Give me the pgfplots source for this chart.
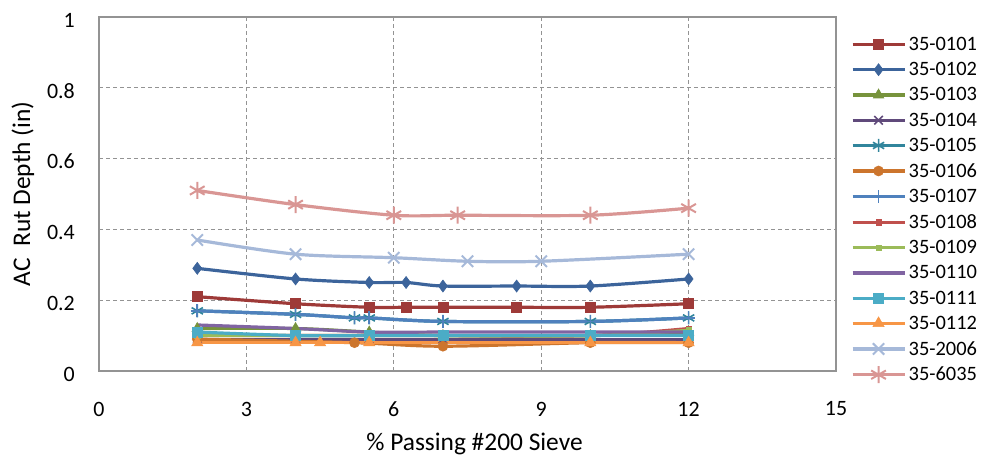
\documentclass[border=0pt]{standalone}
\usepackage{pgfplots}
\pgfplotsset{compat=1.18}
\usepackage{fontspec}
\setmainfont{Carlito}
\definecolor{cA}{RGB}{158,58,56}
\definecolor{cB}{RGB}{60,100,155}
\definecolor{cC}{RGB}{119,147,60}
\definecolor{cD}{RGB}{96,74,123}
\definecolor{cE}{RGB}{49,133,156}
\definecolor{cF}{RGB}{204,117,45}
\definecolor{cG}{RGB}{79,129,189}
\definecolor{cH}{RGB}{192,80,77}
\definecolor{cI}{RGB}{155,187,89}
\definecolor{cJ}{RGB}{128,100,162}
\definecolor{cK}{RGB}{75,172,198}
\definecolor{cL}{RGB}{247,150,70}
\definecolor{cM}{RGB}{166,185,217}
\definecolor{cN}{RGB}{217,150,148}
\begin{document}
\begin{tikzpicture}
\path[use as bounding box] (0,0) rectangle (985bp,462bp);
\begin{axis}[
  at={(99bp,91bp)}, anchor=south west,
  scale only axis, width=737bp, height=354bp,
  xmin=0, xmax=15, ymin=0, ymax=1,
  xtick={0,3,6,9,12,15}, ytick={0,0.2,0.4,0.6,0.8,1},
  tick style={draw=none},
  grid=major,
  major grid style={gray!85, line width=1.3bp, dash pattern=on 4bp off 3bp},
  axis line style={gray!85, line width=1.5bp},
  ticklabel style={font=\fontsize{22}{22}\selectfont},
  /pgf/number format/assume math mode=true,
  xticklabel style={anchor=center, yshift=-38bp},
  yticklabel style={anchor=east, inner xsep=0pt, xshift=-24bp, yshift=-3bp},
  xlabel={\fontsize{25.5}{28}\selectfont\% Passing \#200 Sieve},
  ylabel={\fontsize{25.5}{28}\selectfont AC\ \ Rut Depth (in)},
  xlabel style={at={(axis description cs:0.5,0)}, anchor=center, yshift=-73bp, xshift=7bp},
  ylabel style={at={(axis description cs:0,0.5)}, anchor=center, yshift=76bp},
  legend style={at={(1.02,0.948)}, anchor=north west, draw=none, fill=none,
    font=\fontsize{20.5}{20.5}\selectfont, row sep=7.5bp, inner sep=0pt,
    nodes={inner xsep=2.5bp, inner ysep=1.5bp}},
  legend cell align=left,
  legend image code/.code={\draw[#1, mark repeat=2, mark phase=2] plot coordinates {(0bp,0bp) (26bp,0bp) (52bp,0bp)};},
  every axis plot/.append style={line width=3.2bp, smooth, tension=0.5},
]
\addplot[cA, mark=square*, mark size=5bp, mark options={line width=0.6bp}] coordinates {(2,0.21)(4,0.19)(5.5,0.18)(6.25,0.18)(7,0.18)(8.5,0.18)(10,0.18)(12,0.19)};
\addlegendentry{35-0101}
\addplot[cB, mark=diamond*, mark size=6bp, mark options={line width=0.6bp}] coordinates {(2,0.29)(4,0.26)(5.5,0.25)(6.25,0.25)(7,0.24)(8.5,0.24)(10,0.24)(12,0.26)};
\addlegendentry{35-0102}
\addplot[cC, mark=triangle*, mark size=6bp, mark options={line width=0.6bp}] coordinates {(2,0.12)(4,0.12)(5.5,0.11)(7,0.10)(10,0.10)(12,0.11)};
\addlegendentry{35-0103}
\addplot[cD, mark=x, mark size=6bp, mark options={line width=1.6bp}] coordinates {(2,0.09)(4,0.09)(5.5,0.09)(7,0.09)(10,0.09)(12,0.09)};
\addlegendentry{35-0104}
\addplot[cE, mark=asterisk, mark size=6.5bp, mark options={line width=1.6bp}] coordinates {(2,0.17)(4,0.16)(5.2,0.15)(5.5,0.15)(7,0.14)(10,0.14)(12,0.15)};
\addlegendentry{35-0105}
\addplot[cF, mark=*, mark size=5bp, mark options={line width=0.6bp}] coordinates {(2,0.09)(5.2,0.08)(7,0.07)(10,0.08)(12,0.08)};
\addlegendentry{35-0106}
\addplot[cG, mark=+, mark size=6.5bp, mark options={line width=1.6bp}] coordinates {(2,0.17)(4,0.16)(5.2,0.15)(5.5,0.15)(7,0.14)(10,0.14)(12,0.15)};
\addlegendentry{35-0107}
\addplot[cH, mark=square*, mark size=2.8bp, mark options={line width=0.4bp}] coordinates {(2,0.10)(4,0.10)(5.5,0.10)(7,0.10)(10,0.10)(12,0.12)};
\addlegendentry{35-0108}
\addplot[cI, mark=square*, mark size=2.8bp, mark options={line width=0.4bp}] coordinates {(2,0.10)(4,0.10)(5.5,0.10)(7,0.10)(10,0.10)(12,0.115)};
\addlegendentry{35-0109}
\addplot[cJ] coordinates {(2,0.13)(4,0.12)(5.5,0.11)(7,0.11)(10,0.11)(12,0.11)};
\addlegendentry{35-0110}
\addplot[cK, mark=square*, mark size=5bp, mark options={line width=0.6bp}] coordinates {(2,0.11)(4,0.10)(5.5,0.10)(7,0.10)(10,0.10)(12,0.10)};
\addlegendentry{35-0111}
\addplot[cL, mark=triangle*, mark size=6.5bp, mark options={line width=0.6bp}] coordinates {(2,0.08)(4,0.08)(4.5,0.08)(5.5,0.08)(10,0.08)(12,0.08)};
\addlegendentry{35-0112}
\addplot[cM, mark=x, mark size=8bp, mark options={line width=2bp}] coordinates {(2,0.37)(4,0.33)(6,0.32)(7.5,0.31)(9,0.31)(12,0.33)};
\addlegendentry{35-2006}
\addplot[cN, mark=asterisk, mark size=8.5bp, mark options={line width=2bp}] coordinates {(2,0.51)(4,0.47)(6,0.44)(7.3,0.44)(10,0.44)(12,0.46)};
\addlegendentry{35-6035}
\end{axis}
\end{tikzpicture}
\end{document}
